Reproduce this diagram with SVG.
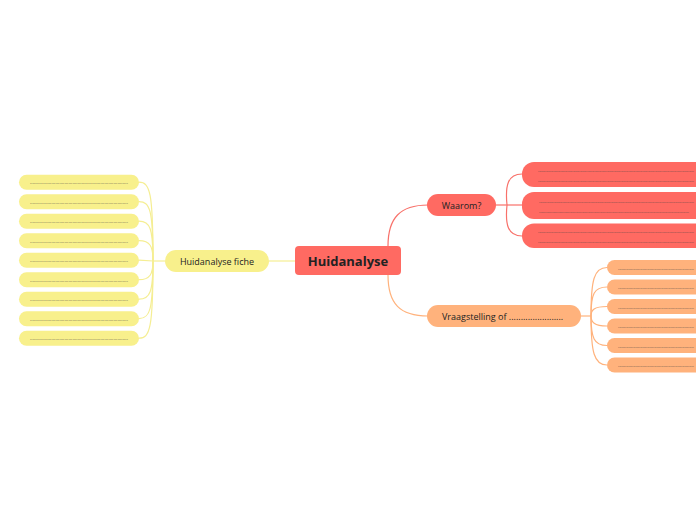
<svg xmlns="http://www.w3.org/2000/svg" width="696" height="520" viewBox="0 0 696 520">
<style>
.t{font-family:"Open Sans","Noto Sans","Liberation Sans",sans-serif;fill:#222;}
.lbl{font-size:9px;}
.dot{font-size:5px;fill:#444;font-family:"Open Sans","Liberation Sans",sans-serif;}
.red{fill:#ff6a62;}
.org{fill:#ffb27c;}
.yel{fill:#f8f08c;}
.cr{fill:none;stroke:#f8716a;stroke-width:1.2;}
.co{fill:none;stroke:#ffb27c;stroke-width:1.2;}
.cy{fill:none;stroke:#f5ee93;stroke-width:1.2;}
</style>
<rect width="696" height="520" fill="#fff"/>
<g id="connectors">
<path class="cr" d="M388,246 C388,218 400,205 428,205" stroke-width="1.5"/>
<path class="co" d="M388,275 C388,304 400,316 428,316" stroke-width="1.5"/>
<path class="cy" d="M295,261 L269,261" stroke-width="1.5"/>
<path class="cr" d="M496,205 L522,205"/>
<path class="cr" d="M507,205 C505,185 508,174 522,174"/>
<path class="cr" d="M507,205 C505,225 508,236 522,236"/>
<path class="co" d="M581,316 L591,316"/>
<path class="co" d="M591,316 C591,280 594,267.5 607,267.5"/>
<path class="co" d="M591,316 C591,294 594,287 607,287"/>
<path class="co" d="M591,316 C591,310 594,306.5 607,306.5"/>
<path class="co" d="M591,316 C591,322 594,326 607,326"/>
<path class="co" d="M591,316 C591,338 594,345.5 607,345.5"/>
<path class="co" d="M591,316 C591,352 594,365 607,365"/>
<path class="cy" d="M165,261 L153,261"/>
<path class="cy" d="M153,261 C153,192 150,182.2 139,182.2"/>
<path class="cy" d="M153,261 C153,210 150,201.7 139,201.7"/>
<path class="cy" d="M153,261 C153,228 150,221.2 139,221.2"/>
<path class="cy" d="M153,261 C153,246 150,240.7 139,240.7"/>
<path class="cy" d="M153,261 L139,260.2"/>
<path class="cy" d="M153,261 C153,274 150,279.7 139,279.7"/>
<path class="cy" d="M153,261 C153,292 150,299.2 139,299.2"/>
<path class="cy" d="M153,261 C153,310 150,318.7 139,318.7"/>
<path class="cy" d="M153,261 C153,328 150,338.2 139,338.2"/>
</g>
<g id="central">
<rect class="red" x="295" y="246" width="106" height="29" rx="4"/>
<text class="t" x="348" y="266" font-size="13" font-weight="bold" text-anchor="middle">Huidanalyse</text>
</g>
<g id="waarom">
<rect class="red" x="427" y="194" width="69" height="22" rx="11"/>
<text class="t lbl" x="461.5" y="208.5" text-anchor="middle">Waarom?</text>
</g>
<g id="waarom-1">
<rect class="red" x="522" y="162" width="200" height="25" rx="12"/>
<text class="dot" x="538" y="172" textLength="156" lengthAdjust="spacing">.....................................................................................................................................</text>
<text class="dot" x="538" y="182" textLength="156" lengthAdjust="spacing">.....................................................................................................................................</text>
</g>
<g id="waarom-2">
<rect class="red" x="522" y="192" width="200" height="27" rx="12"/>
<text class="dot" x="539" y="202.5" textLength="155" lengthAdjust="spacing">.....................................................................................................................................</text>
<text class="dot" x="539" y="213" textLength="150" lengthAdjust="spacing">.............................................................................................................................</text>
</g>
<g id="waarom-3">
<rect class="red" x="522" y="223.5" width="200" height="24.5" rx="12"/>
<text class="dot" x="538" y="232.5" textLength="156" lengthAdjust="spacing">.....................................................................................................................................</text>
<text class="dot" x="538" y="242.5" textLength="156" lengthAdjust="spacing">.....................................................................................................................................</text>
</g>
<g id="vraagstelling">
<rect class="org" x="427" y="305" width="154" height="22" rx="11"/>
<text class="t lbl" x="442" y="319.5">Vraagstelling of .......................</text>
</g>
<g id="vraag-1"><rect class="org" x="607" y="260" width="120" height="15" rx="7.5"/><text class="dot" x="618" y="269.5" textLength="76" lengthAdjust="spacing">.................................................................</text></g>
<g id="vraag-2"><rect class="org" x="607" y="279.5" width="120" height="15" rx="7.5"/><text class="dot" x="618" y="289" textLength="76" lengthAdjust="spacing">.................................................................</text></g>
<g id="vraag-3"><rect class="org" x="607" y="299" width="120" height="15" rx="7.5"/><text class="dot" x="618" y="308.5" textLength="76" lengthAdjust="spacing">.................................................................</text></g>
<g id="vraag-4"><rect class="org" x="607" y="318.5" width="120" height="15" rx="7.5"/><text class="dot" x="618" y="328" textLength="76" lengthAdjust="spacing">.................................................................</text></g>
<g id="vraag-5"><rect class="org" x="607" y="338" width="120" height="15" rx="7.5"/><text class="dot" x="618" y="347.5" textLength="76" lengthAdjust="spacing">.................................................................</text></g>
<g id="vraag-6"><rect class="org" x="607" y="357.5" width="120" height="15" rx="7.5"/><text class="dot" x="618" y="367" textLength="76" lengthAdjust="spacing">.................................................................</text></g>
<g id="fiche">
<rect class="yel" x="165" y="250" width="104" height="22" rx="11"/>
<text class="t lbl" x="217" y="264.5" text-anchor="middle">Huidanalyse fiche</text>
</g>
<g id="fiche-1"><rect class="yel" x="19" y="174.7" width="120" height="15" rx="7.5"/><text class="dot" x="30" y="184.3" textLength="98" lengthAdjust="spacing">..........................................................................</text></g>
<g id="fiche-2"><rect class="yel" x="19" y="194.2" width="120" height="15" rx="7.5"/><text class="dot" x="30" y="203.8" textLength="98" lengthAdjust="spacing">..........................................................................</text></g>
<g id="fiche-3"><rect class="yel" x="19" y="213.7" width="120" height="15" rx="7.5"/><text class="dot" x="30" y="223.3" textLength="98" lengthAdjust="spacing">..........................................................................</text></g>
<g id="fiche-4"><rect class="yel" x="19" y="233.2" width="120" height="15" rx="7.5"/><text class="dot" x="30" y="242.8" textLength="98" lengthAdjust="spacing">..........................................................................</text></g>
<g id="fiche-5"><rect class="yel" x="19" y="252.7" width="120" height="15" rx="7.5"/><text class="dot" x="30" y="262.3" textLength="98" lengthAdjust="spacing">..........................................................................</text></g>
<g id="fiche-6"><rect class="yel" x="19" y="272.2" width="120" height="15" rx="7.5"/><text class="dot" x="30" y="281.8" textLength="98" lengthAdjust="spacing">..........................................................................</text></g>
<g id="fiche-7"><rect class="yel" x="19" y="291.7" width="120" height="15" rx="7.5"/><text class="dot" x="30" y="301.3" textLength="98" lengthAdjust="spacing">..........................................................................</text></g>
<g id="fiche-8"><rect class="yel" x="19" y="311.2" width="120" height="15" rx="7.5"/><text class="dot" x="30" y="320.8" textLength="98" lengthAdjust="spacing">..........................................................................</text></g>
<g id="fiche-9"><rect class="yel" x="19" y="330.7" width="120" height="15" rx="7.5"/><text class="dot" x="30" y="340.3" textLength="98" lengthAdjust="spacing">..........................................................................</text></g>
</svg>
